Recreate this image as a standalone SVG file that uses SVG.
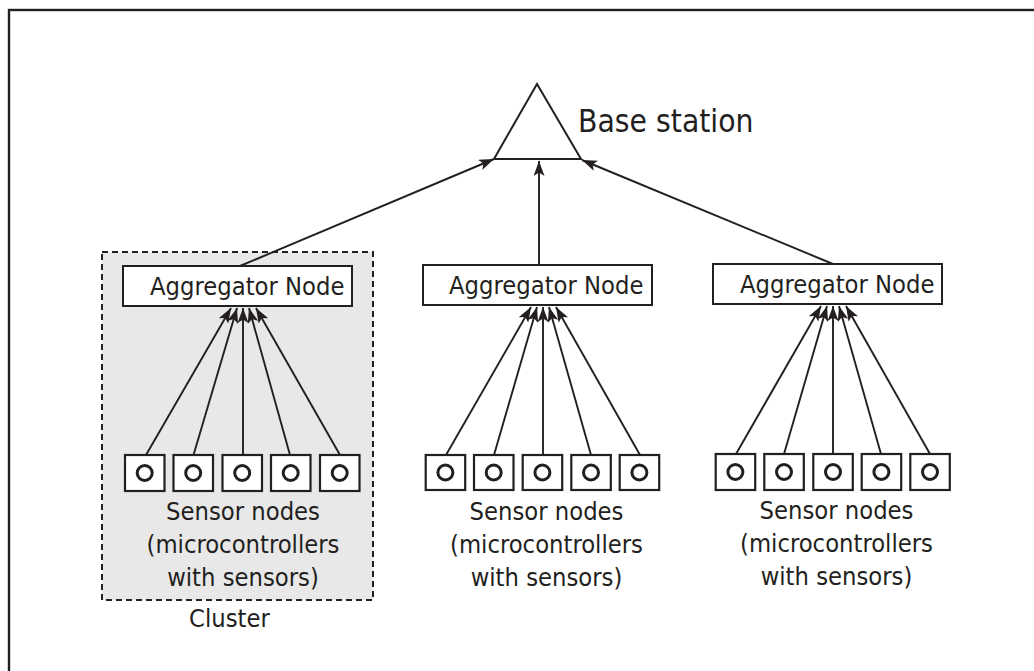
<svg xmlns="http://www.w3.org/2000/svg" width="1034" height="671" viewBox="0 0 1034 671">
<style>
text{font-family:'DejaVu Sans Condensed','DejaVu Sans',sans-serif;font-stretch:condensed;fill:#231f20}
.box{fill:#fff;stroke:#231f20;stroke-width:2}
.sn{fill:#fff;stroke:#231f20;stroke-width:2.2}
.led{fill:#fff;stroke:#231f20;stroke-width:3}
.c{stroke:#231f20;stroke-width:1.9;fill:none;marker-end:url(#ah)}
.t25{font-size:25.3px}
</style>
<defs>
<marker id="ah" markerUnits="userSpaceOnUse" markerWidth="17" markerHeight="11" refX="15" refY="5.5" orient="auto">
<path d="M0,0 L15,5.5 L0,11 L3.5,5.5 z" fill="#231f20"/>
</marker>
</defs>
<rect x="9" y="10" width="1040" height="680" fill="#fff" stroke="#231f20" stroke-width="2.4"/>
<g id="cluster">
<rect x="102" y="252" width="271" height="348" fill="#e8e8e8" stroke="#231f20" stroke-width="2" stroke-dasharray="6,4"/>
<text x="229.5" y="627" class="t25" text-anchor="middle">Cluster</text>
</g>
<g id="base-station">
<polygon points="537,84 494,159 581,159" class="box"/>
<text x="578" y="132" font-size="31.5">Base station</text>
</g>
<g id="aggregator-1">
<rect x="123" y="266" width="229" height="40" class="box"/>
<text x="150" y="295" class="t25">Aggregator Node</text>
</g>
<g id="aggregator-2">
<rect x="423" y="265" width="229" height="40" class="box"/>
<text x="449" y="294" class="t25">Aggregator Node</text>
</g>
<g id="aggregator-3">
<rect x="713" y="264" width="229" height="40" class="box"/>
<text x="740" y="293" class="t25">Aggregator Node</text>
</g>
<g id="sensors-1">
<rect x="125" y="455" width="39.5" height="36" class="sn"/><circle cx="144.7" cy="473" r="7.5" class="led"/>
<rect x="173.5" y="455" width="39.5" height="36" class="sn"/><circle cx="193.2" cy="473" r="7.5" class="led"/>
<rect x="222.5" y="455" width="39.5" height="36" class="sn"/><circle cx="242.2" cy="473" r="7.5" class="led"/>
<rect x="271" y="455" width="39.5" height="36" class="sn"/><circle cx="290.7" cy="473" r="7.5" class="led"/>
<rect x="320" y="455" width="39.5" height="36" class="sn"/><circle cx="339.7" cy="473" r="7.5" class="led"/>
<text x="243" y="520" class="t25" text-anchor="middle">Sensor nodes</text>
<text x="243" y="553" class="t25" text-anchor="middle">(microcontrollers</text>
<text x="243" y="586" class="t25" text-anchor="middle">with sensors)</text>
</g>
<g id="sensors-2">
<rect x="425.7" y="455" width="39.5" height="35" class="sn"/><circle cx="445.4" cy="472.5" r="7.5" class="led"/>
<rect x="474" y="455" width="39.5" height="35" class="sn"/><circle cx="493.7" cy="472.5" r="7.5" class="led"/>
<rect x="522.7" y="455" width="39.5" height="35" class="sn"/><circle cx="542.4" cy="472.5" r="7.5" class="led"/>
<rect x="571.3" y="455" width="39.5" height="35" class="sn"/><circle cx="591" cy="472.5" r="7.5" class="led"/>
<rect x="619.7" y="455" width="39.5" height="35" class="sn"/><circle cx="639.4" cy="472.5" r="7.5" class="led"/>
<text x="546.5" y="520" class="t25" text-anchor="middle">Sensor nodes</text>
<text x="546.5" y="553" class="t25" text-anchor="middle">(microcontrollers</text>
<text x="546.5" y="586" class="t25" text-anchor="middle">with sensors)</text>
</g>
<g id="sensors-3">
<rect x="715.7" y="454" width="39.5" height="36" class="sn"/><circle cx="735.4" cy="472" r="7.5" class="led"/>
<rect x="764.3" y="454" width="39.5" height="36" class="sn"/><circle cx="784" cy="472" r="7.5" class="led"/>
<rect x="813.3" y="454" width="39.5" height="36" class="sn"/><circle cx="833" cy="472" r="7.5" class="led"/>
<rect x="861.7" y="454" width="39.5" height="36" class="sn"/><circle cx="881.4" cy="472" r="7.5" class="led"/>
<rect x="910.3" y="454" width="39.5" height="36" class="sn"/><circle cx="930" cy="472" r="7.5" class="led"/>
<text x="836.5" y="519" class="t25" text-anchor="middle">Sensor nodes</text>
<text x="836.5" y="552" class="t25" text-anchor="middle">(microcontrollers</text>
<text x="836.5" y="585" class="t25" text-anchor="middle">with sensors)</text>
</g>
<g id="connectors">
<line x1="240" y1="266" x2="494" y2="159" class="c"/>
<line x1="539" y1="265" x2="539" y2="161" class="c"/>
<line x1="833" y1="264" x2="582" y2="160" class="c"/>
<line x1="146" y1="455" x2="231" y2="308" class="c"/>
<line x1="193.5" y1="455" x2="237" y2="308" class="c"/>
<line x1="243" y1="455" x2="243" y2="308" class="c"/>
<line x1="290" y1="455" x2="249" y2="308" class="c"/>
<line x1="340" y1="455" x2="256" y2="308" class="c"/>
<line x1="446" y1="455" x2="531" y2="307" class="c"/>
<line x1="494" y1="455" x2="537" y2="307" class="c"/>
<line x1="543" y1="455" x2="543" y2="307" class="c"/>
<line x1="591" y1="455" x2="549" y2="307" class="c"/>
<line x1="640" y1="455" x2="556" y2="307" class="c"/>
<line x1="736" y1="454" x2="821" y2="306" class="c"/>
<line x1="784" y1="454" x2="827" y2="306" class="c"/>
<line x1="833" y1="454" x2="833" y2="306" class="c"/>
<line x1="881" y1="454" x2="839" y2="306" class="c"/>
<line x1="930" y1="454" x2="846" y2="306" class="c"/>
</g>
</svg>
